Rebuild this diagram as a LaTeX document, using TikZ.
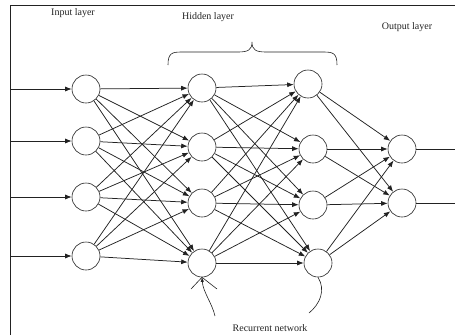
\documentclass[tikz,border=0pt]{standalone}
\usepackage{fontspec}
\setmainfont{Liberation Serif}
\usetikzlibrary{arrows.meta}
\definecolor{ink}{HTML}{222222}
\begin{document}
\begin{tikzpicture}[x=1pt,y=-1pt,
  neuron/.style={circle,draw=ink,line width=0.6pt,minimum size=28pt,inner sep=0pt,fill=white},
  conn/.style={draw=ink,line width=0.75pt,-{Latex[length=6.5pt,width=5pt]}},
  plain/.style={draw=ink,line width=0.75pt},
  lbl/.style={font=\fontsize{10}{12}\selectfont,text=ink,inner sep=0pt}]
\useasboundingbox (0,0) rectangle (455,335);
% frame
\draw[ink,line width=0.9pt] (10,335) -- (10,5) -- (455,5);
% nodes
\node[neuron] (i1) at (86,89) {};
\node[neuron] (i2) at (86,141) {};
\node[neuron] (i3) at (86,197) {};
\node[neuron] (i4) at (86,256) {};
\node[neuron] (h1) at (202,88) {};
\node[neuron] (h2) at (202,147) {};
\node[neuron] (h3) at (202,203) {};
\node[neuron] (h4) at (202,263) {};
\node[neuron] (k1) at (308,84) {};
\node[neuron] (k2) at (313,149) {};
\node[neuron] (k3) at (313,205) {};
\node[neuron] (k4) at (318,263) {};
\node[neuron] (o1) at (402,149) {};
\node[neuron] (o2) at (402,203) {};
% free ends
\coordinate (a1) at (10,89);
\coordinate (a2) at (10,141);
\coordinate (a3) at (10,197);
\coordinate (a4) at (10,256);
\coordinate (b1) at (455,149);
\coordinate (b2) at (455,203);
% inputs
\foreach \n in {1,...,4} \draw[conn] (a\n) -- (i\n);
% input -> hidden 1
\foreach \s in {1,...,4} \foreach \t in {1,...,4} \draw[conn] (i\s) -- (h\t);
% hidden 1 -> hidden 2
\foreach \s in {1,...,4} \foreach \t in {1,...,4} \draw[conn] (h\s) -- (k\t);
% hidden 2 -> output
\foreach \s in {1,...,4} \foreach \t in {1,2} \draw[conn] (k\s) -- (o\t);
% outputs
\draw[plain] (o1) -- (b1);
\draw[plain] (o2) -- (b2);
% recurrent links
\coordinate (f1) at (191,289);
\coordinate (f2) at (217,289);
\coordinate (r1) at (215,316);
\draw[plain,line width=0.6pt] (h4.south) -- (f1);
\draw[plain,line width=0.6pt] (h4.south) -- (f2);
\draw[conn,line width=0.6pt,-{Latex[length=4.5pt,width=3.5pt]}] (r1) .. controls (212,303) and (203,292) .. (h4.south);
\coordinate (r2) at (309,313);
\draw[plain,line width=0.6pt] (k4.south) .. controls (326,290) and (320,304) .. (r2);
% brace
\draw[plain,line width=0.6pt] (168,65) .. controls (168,53) and (172,52) .. (182,52) -- (238,52)
  .. controls (248,52) and (252,50) .. (252,42)
  .. controls (252,50) and (256,52) .. (266,52) -- (323,52)
  .. controls (333,52) and (337,53) .. (337,65);
% labels
\node[lbl] (tin) at (73,13) {Input layer};
\node[lbl] (thid) at (208,17) {Hidden layer};
\node[lbl] (tout) at (407,27) {Output layer};
\node[lbl] (trec) at (270,328) {Recurrent network};
\end{tikzpicture}
\end{document}
